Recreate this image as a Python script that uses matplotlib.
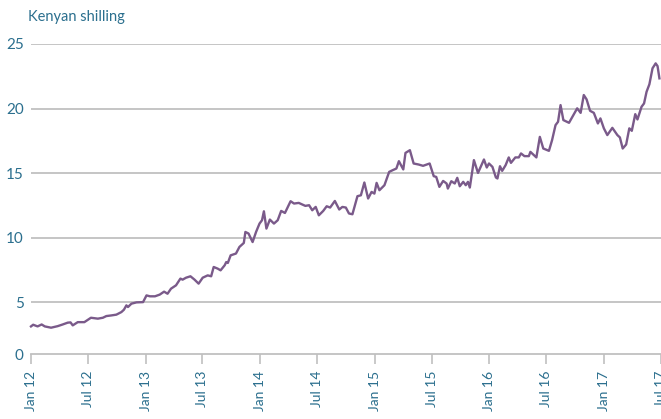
import matplotlib
matplotlib.use("Agg")
import matplotlib.pyplot as plt
import matplotlib.dates as mdates
import pandas as pd

# readings (date, shillings)
dates = [
    "2012-01-02", "2012-01-09", "2012-01-23", "2012-02-05", "2012-02-15", "2012-03-06",
    "2012-03-27", "2012-04-12", "2012-04-28", "2012-05-07", "2012-05-14", "2012-05-30",
    "2012-06-20", "2012-07-11", "2012-08-02", "2012-08-18", "2012-08-29", "2012-09-14",
    "2012-09-30", "2012-10-16", "2012-10-24", "2012-11-01", "2012-11-06", "2012-11-17",
    "2012-12-03", "2012-12-24", "2013-01-04", "2013-01-15", "2013-01-31", "2013-02-15",
    "2013-03-01", "2013-03-12", "2013-03-23", "2013-04-08", "2013-04-22", "2013-04-29",
    "2013-05-10", "2013-05-24", "2013-06-06", "2013-06-19", "2013-07-02", "2013-07-18",
    "2013-07-29", "2013-08-06", "2013-08-19", "2013-08-28", "2013-09-10", "2013-09-15",
    "2013-09-20", "2013-09-29", "2013-10-16", "2013-10-27", "2013-11-10", "2013-11-15",
    "2013-11-25", "2013-12-08", "2013-12-19", "2013-12-30", "2014-01-07", "2014-01-13",
    "2014-01-21", "2014-02-01", "2014-02-14", "2014-02-26", "2014-03-09", "2014-03-21",
    "2014-04-08", "2014-04-19", "2014-05-04", "2014-05-25", "2014-06-06", "2014-06-16",
    "2014-06-27", "2014-07-07", "2014-07-21", "2014-08-01", "2014-08-12", "2014-08-27",
    "2014-09-10", "2014-09-20", "2014-10-01", "2014-10-11", "2014-10-22", "2014-11-07",
    "2014-11-18", "2014-11-29", "2014-12-11", "2014-12-22", "2014-12-31", "2015-01-07",
    "2015-01-16", "2015-02-01", "2015-02-16", "2015-02-27", "2015-03-11", "2015-03-19",
    "2015-04-02", "2015-04-09", "2015-04-23", "2015-05-05", "2015-05-21", "2015-06-04",
    "2015-06-25", "2015-07-08", "2015-07-16", "2015-07-26", "2015-08-07", "2015-08-18",
    "2015-08-22", "2015-09-02", "2015-09-13", "2015-09-21", "2015-09-29", "2015-10-10",
    "2015-10-18", "2015-10-25", "2015-10-31", "2015-11-13", "2015-11-26", "2015-12-15",
    "2015-12-24", "2015-12-31", "2016-01-11", "2016-01-22", "2016-01-27", "2016-02-04",
    "2016-02-11", "2016-02-22", "2016-03-03", "2016-03-10", "2016-03-24", "2016-04-04",
    "2016-04-11", "2016-04-22", "2016-05-06", "2016-05-11", "2016-05-22", "2016-05-30",
    "2016-06-10", "2016-06-21", "2016-07-09", "2016-07-19", "2016-07-30", "2016-08-07",
    "2016-08-15", "2016-08-24", "2016-09-11", "2016-09-25", "2016-10-07", "2016-10-18",
    "2016-10-28", "2016-11-06", "2016-11-17", "2016-11-29", "2016-12-12", "2016-12-20",
    "2016-12-31", "2017-01-11", "2017-01-27", "2017-02-12", "2017-02-20", "2017-03-01",
    "2017-03-12", "2017-03-22", "2017-03-30", "2017-04-10", "2017-04-17", "2017-04-30",
    "2017-05-08", "2017-05-16", "2017-05-25", "2017-06-04", "2017-06-14", "2017-06-20",
    "2017-06-26",
]
values = [
    3.14, 3.27, 3.14, 3.29, 3.14, 3.04,
    3.16, 3.29, 3.43, 3.45, 3.22, 3.47,
    3.47, 3.81, 3.74, 3.81, 3.94, 3.99,
    4.05, 4.25, 4.43, 4.77, 4.64, 4.90,
    5.00, 5.02, 5.54, 5.47, 5.47, 5.60,
    5.83, 5.67, 6.06, 6.32, 6.84, 6.76,
    6.91, 7.02, 6.76, 6.45, 6.91, 7.09,
    7.02, 7.74, 7.61, 7.48, 7.87, 8.12,
    8.05, 8.64, 8.78, 9.29, 9.60, 10.45,
    10.33, 9.67, 10.45, 11.10, 11.36, 12.05,
    10.71, 11.41, 11.10, 11.36, 12.08, 11.92,
    12.83, 12.65, 12.70, 12.47, 12.52, 12.13,
    12.39, 11.74, 12.08, 12.44, 12.34, 12.85,
    12.19, 12.39, 12.34, 11.88, 11.82, 13.22,
    13.29, 14.28, 13.04, 13.55, 13.42, 14.25,
    13.68, 14.07, 15.10, 15.23, 15.36, 15.93,
    15.29, 16.57, 16.78, 15.75, 15.67, 15.57,
    15.75, 14.77, 14.71, 13.94, 14.40, 14.20,
    13.81, 14.38, 14.20, 14.64, 13.99, 14.33,
    14.07, 14.33, 13.89, 16.01, 15.02, 16.06,
    15.44, 15.75, 15.49, 14.67, 14.59, 15.54,
    15.18, 15.62, 16.22, 15.80, 16.22, 16.22,
    16.53, 16.32, 16.32, 16.65, 16.40, 16.22,
    17.81, 16.91, 16.73, 17.56, 18.72, 18.98,
    20.27, 19.11, 18.90, 19.50, 20.02, 19.67,
    21.05, 20.71, 19.83, 19.67, 18.85, 19.24,
    18.47, 17.95, 18.51, 17.95, 17.77, 16.91,
    17.22, 18.47, 18.28, 19.57, 19.16, 20.14,
    20.40, 21.30, 21.88, 23.12, 23.50, 23.29,
    22.34,
]

ytick_vals = [1, 5, 10, 15, 20, 25]
ytick_labels = ["0", "5", "10", "15", "20", "25"]

blue = "#2b6f8e"
purple = "#7a5a8a"
grid = "#c0c0c0"

plt.rcParams["font.family"] = ["Lato", "DejaVu Sans"]

fig = plt.figure(figsize=(6.61, 4.19), dpi=100)
ax = fig.add_axes([0.0464, 0.155, 0.9536, 0.74])

x = pd.to_datetime(dates)
ax.plot(x, values, color=purple, lw=1.7, zorder=3, clip_on=False)

ax.set_xlim(pd.Timestamp("2012-01-01"), pd.Timestamp("2017-07-01"))
ax.set_ylim(1, 25)

ax.set_yticks(ytick_vals)
ax.set_yticklabels(ytick_labels)
for v in ytick_vals[1:]:
    ax.axhline(v, color=grid, lw=1.3, zorder=1)

ax.xaxis.set_major_locator(mdates.MonthLocator(bymonth=[1, 7]))
ax.xaxis.set_major_formatter(mdates.DateFormatter("%b %y"))
ax.tick_params(axis="x", colors=grid, length=7, width=1.2, labelcolor=blue,
               labelsize=10, labelrotation=90, pad=5)
ax.tick_params(axis="y", length=0, labelcolor=blue, labelsize=11, pad=5)

for side in ["top", "right", "left"]:
    ax.spines[side].set_visible(False)
ax.spines["bottom"].set_color(grid)
ax.spines["bottom"].set_linewidth(1.3)

fig.text(0.042, 0.96, "Kenyan shilling", color=blue, fontsize=10.5, va="center", ha="left")

plt.savefig("out.png", dpi=100)
